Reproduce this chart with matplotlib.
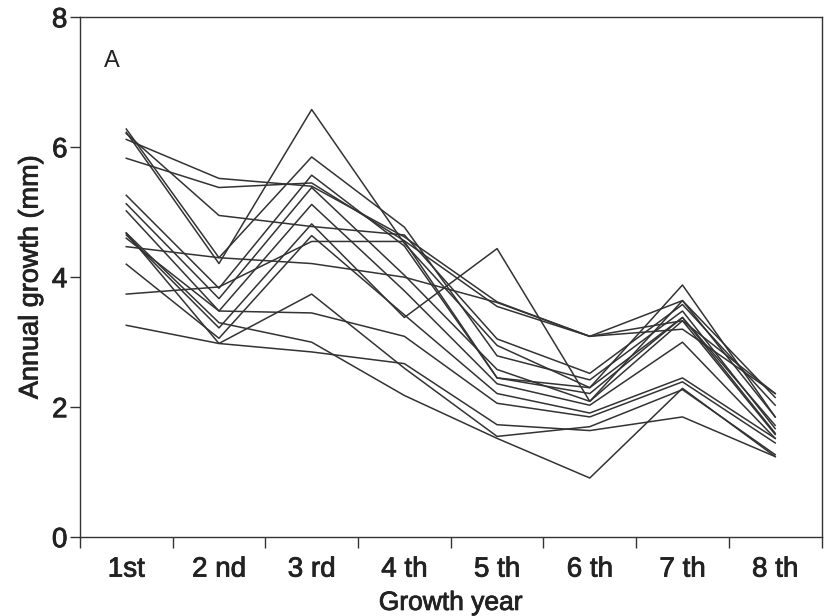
import matplotlib
matplotlib.use("Agg")
import matplotlib.pyplot as plt
import matplotlib.patheffects as pe
from matplotlib.ticker import FixedLocator, NullFormatter

plt.rcParams['font.family'] = ['Liberation Sans', 'DejaVu Sans']

categories = ["1st", "2 nd", "3 rd", "4 th", "5 th", "6 th", "7 th", "8 th"]

s01 = [6.12, 5.52, 5.40, 4.62, 3.62, 3.09, 3.33, 2.21]
s02 = [5.83, 5.38, 5.45, 4.56, 3.55, 3.09, 3.64, 2.15]
s03 = [6.21, 4.95, 4.78, 4.65, 3.05, 2.52, 3.58, 2.03]
s04 = [6.23, 4.21, 6.58, 4.52, 2.95, 2.30, 3.88, 1.85]
s05 = [6.28, 4.30, 5.85, 4.77, 2.79, 2.42, 3.48, 1.67]
s06 = [5.26, 3.83, 5.57, 4.48, 2.45, 2.21, 3.38, 1.60]
s07 = [5.13, 3.67, 5.38, 4.03, 2.58, 2.09, 3.33, 1.58]
s08 = [5.02, 3.48, 5.12, 3.79, 2.36, 2.03, 3.00, 1.52]
s09 = [4.65, 3.22, 4.82, 3.38, 4.44, 2.09, 3.64, 1.85]
s10 = [4.47, 4.30, 4.21, 4.00, 3.61, 3.09, 3.20, 2.21]
s11 = [3.74, 3.85, 4.55, 4.55, 2.45, 2.30, 3.38, 1.72]
s12 = [4.20, 3.06, 4.64, 3.42, 2.21, 1.91, 2.45, 1.52]
s13 = [3.26, 2.98, 2.85, 2.67, 1.73, 1.64, 1.85, 1.24]
s14 = [4.60, 3.48, 3.45, 3.09, 2.06, 1.85, 2.39, 1.45]
s15 = [4.68, 2.98, 3.74, 2.60, 1.55, 1.70, 2.27, 1.27]
s16 = [4.68, 3.30, 3.00, 2.18, 1.52, 0.91, 2.29, 1.24]

series = [s01, s02, s03, s04, s05, s06, s07, s08,
          s09, s10, s11, s12, s13, s14, s15, s16]

fig = plt.figure(figsize=(8.24, 6.16), dpi=100)
ax = fig.add_axes([0.097, 0.128, 0.9, 0.844])

x = list(range(len(categories)))
for s in series:
    ax.plot(x, s, color="#333333", linewidth=1.1)

ax.set_xlim(-0.5, len(categories) - 0.5)
ax.set_ylim(0, 8)
ax.set_yticks([0, 2, 4, 6, 8])

ax.xaxis.set_major_locator(FixedLocator([i - 0.5 for i in range(len(categories) + 1)]))
ax.xaxis.set_major_formatter(NullFormatter())
ax.xaxis.set_minor_locator(FixedLocator(x))
ax.set_xticklabels(categories, minor=True)
ax.tick_params(axis='x', which='major', direction='out', length=8, width=1, color="#333333")
ax.tick_params(axis='x', which='minor', length=0, pad=14, labelsize=20, labelcolor="#222222")
ax.tick_params(axis='y', direction='out', length=7, width=1, labelsize=20,
               labelcolor="#222222", color="#333333", pad=2)

for sp in ax.spines.values():
    sp.set_color("#333333")
    sp.set_linewidth(1.0)

thick = [pe.withStroke(linewidth=0.6, foreground="#222222")]
ax.set_xlabel("Growth year", fontsize=19, color="#222222", labelpad=6, path_effects=thick)
ax.set_ylabel("Annual growth (mm)", fontsize=19.5, color="#222222", labelpad=6, path_effects=thick)
for lab in ax.get_xticklabels(minor=True) + ax.get_yticklabels():
    lab.set_path_effects(thick)
ax.text(0.033, 0.905, "A", transform=ax.transAxes, fontsize=17, color="#222222")

fig.savefig("out.png", dpi=100)
